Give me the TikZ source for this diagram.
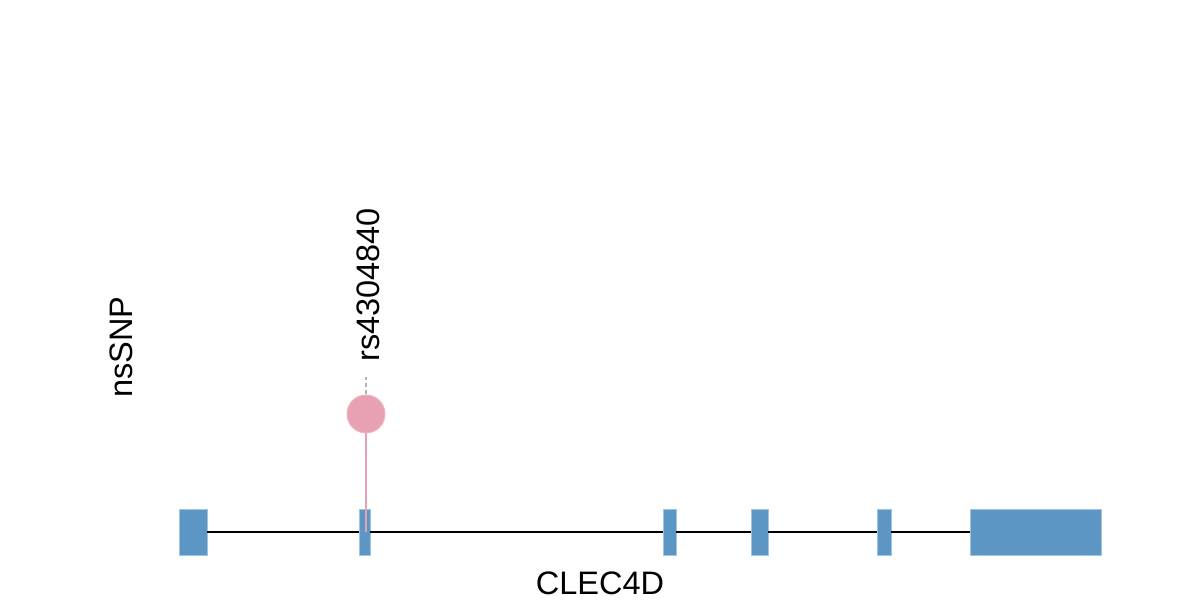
\documentclass[tikz,border=0pt]{standalone}
\usepackage{fontspec}
\setmainfont{Liberation Sans}
\usepackage{tikz}
\usetikzlibrary{
    positioning,                      % right=of, below=of, etc.
    calc                              % aritmetica de coordenadas
}
\definecolor{exonblue}{RGB}{92,150,196}
\definecolor{exonedge}{RGB}{160,195,225}
\definecolor{snppink}{RGB}{232,161,179}
\definecolor{snpedge}{RGB}{240,180,195}
\tikzset{
    exon/.style={
        rectangle, fill=exonblue, draw=exonedge, line width=0.8pt,
        minimum height=46pt, inner sep=0pt
    },
    intron/.style={
        black, line width=2pt
    },
    lollipop/.style={
        circle, fill=snppink, draw=snpedge, line width=1pt,
        minimum size=38pt, inner sep=0pt
    },
    stem/.style={
        snppink, line width=2pt
    },
    lbl/.style={
        font=\fontsize{32.5}{39}\selectfont, inner sep=0pt
    }
}

\begin{document}
\begin{tikzpicture}[x=1pt, y=1pt]
    \useasboundingbox (0,0) rectangle (1200,600);
    % exones
    \node[exon, minimum width=28pt]  (e1) at (193,68)    {};
    \node[exon, minimum width=11pt]  (e2) at (364.5,68)  {};
    \node[exon, minimum width=13pt]  (e3) at (669.5,68)  {};
    \node[exon, minimum width=17pt]  (e4) at (759.5,68)  {};
    \node[exon, minimum width=14pt]  (e5) at (884,68)    {};
    \node[exon, minimum width=131pt] (e6) at (1035.5,68) {};
    % intrones
    \draw[intron] (e1.east) -- (e2.west);
    \draw[intron] (e2.east) -- (e3.west);
    \draw[intron] (e3.east) -- (e4.west);
    \draw[intron] (e4.east) -- (e5.west);
    \draw[intron] (e5.east) -- (e6.west);
    % SNP
    \coordinate (base) at (366,68);
    \node[lollipop] (snp) at (366,186) {};
    \draw[stem] (base) -- (snp.south);
    \node[lbl, rotate=90, anchor=west] (rs) at (368,238) {rs4304840};
    \draw[gray!60, line width=1.2pt, dash pattern=on 4pt off 3pt]
        (snp.north) -- ($(snp.north)+(0,17)$);
    % etiquetas
    \node[lbl, rotate=90] (track) at (121,253) {nsSNP};
    \node[lbl] (gene) at (600,17) {CLEC4D};
\end{tikzpicture}
\end{document}
